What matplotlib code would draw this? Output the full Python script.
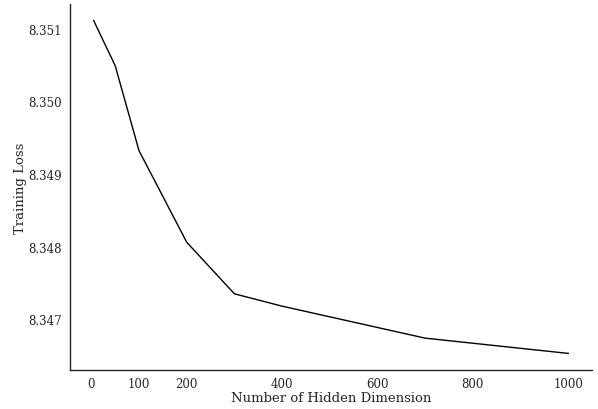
import matplotlib
matplotlib.use("Agg")
import matplotlib.pyplot as plt

hidden_dim = [5, 10, 50, 100, 200, 300, 400, 700, 1000]
train_loss = [8.35111, 8.35104, 8.35049, 8.34932, 8.34806, 8.34735, 8.34718, 8.34674, 8.34653]
yticks = [8.347, 8.348, 8.349, 8.350, 8.351]
xticks = [0, 100, 200, 400, 600, 800, 1000]

plt.rcParams['font.family'] = ['DejaVu Serif']
fig = plt.figure(figsize=(5.98, 4.10), dpi=100)
ax = fig.add_axes([0.117, 0.095, 0.873, 0.893])
ax.plot(hidden_dim, train_loss, color='black', linewidth=1.0)
ax.set_xticks(xticks)
ax.set_yticks(yticks)
ax.set_yticklabels([f"{v:.3f}" for v in yticks])
ax.tick_params(axis='y', length=0, labelsize=8.5, colors='#262626', pad=6)
ax.tick_params(axis='x', length=0, labelsize=8.5, colors='#262626', pad=5)
ax.set_xlabel("Number of Hidden Dimension", fontsize=9.5, color='#262626', labelpad=1)
ax.set_ylabel("Training Loss", fontsize=9.5, color='#262626', labelpad=1)
for s in ['top', 'right']:
    ax.spines[s].set_visible(False)
for s in ['left', 'bottom']:
    ax.spines[s].set_color('#262626')
    ax.spines[s].set_linewidth(1.0)
ax.margins(x=0.05, y=0.05)
fig.savefig("out.png", dpi=100)
